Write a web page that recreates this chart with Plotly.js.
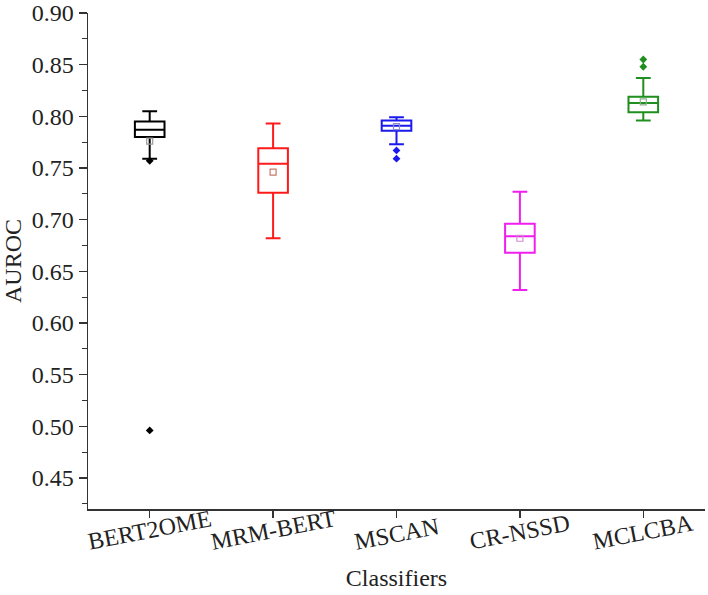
<!DOCTYPE html>
<html>
<head>
<meta charset="utf-8">
<script src="https://cdn.plot.ly/plotly-3.0.1.min.js"></script>
<style>
  html, body { margin: 0; padding: 0; background: #fff; }
  #chart { width: 708px; height: 595px; }
</style>
</head>
<body>
<div id="chart"></div>
<script>
// AUROC summary statistics per classifier
const classifiers = ["BERT2OME", "MRM-BERT", "MSCAN", "CR-NSSD", "MCLCBA"];
const lowerWhisker = [0.759, 0.682, 0.773, 0.632, 0.796];
const q1Values     = [0.780, 0.726, 0.786, 0.668, 0.804];
const medianValues = [0.787, 0.754, 0.791, 0.684, 0.813];
const q3Values     = [0.795, 0.769, 0.796, 0.696, 0.819];
const upperWhisker = [0.805, 0.793, 0.799, 0.727, 0.837];
const meanValues   = [0.776, 0.746, 0.790, 0.682, 0.814];
// outlying runs per classifier
const outlierValues = [
  [0.496, 0.757],
  [],
  [0.767, 0.759],
  [],
  [0.848, 0.855]
];
const colors     = ["#000000", "#ff1a1a", "#1a1aee", "#f01ff0", "#1f8f1f"];
const meanColors = ["#9a9a9a", "#c87a6a", "#8a8ad0", "#d090d0", "#90b090"];

const serif = "Liberation Serif";
const textColor = "#222";
const traces = [];

classifiers.forEach((name, i) => {
  traces.push({
    type: "box",
    name: name,
    x: [name],
    q1: [q1Values[i]],
    median: [medianValues[i]],
    q3: [q3Values[i]],
    lowerfence: [lowerWhisker[i]],
    upperfence: [upperWhisker[i]],
    width: 0.24,
    whiskerwidth: 0.5,
    fillcolor: "rgba(0,0,0,0)",
    line: { color: colors[i], width: 2 },
    boxpoints: false,
    hoverinfo: "skip",
    showlegend: false
  });
  traces.push({
    type: "scatter",
    mode: "markers",
    x: [name],
    y: [meanValues[i]],
    marker: { symbol: "square-open", size: 6, color: meanColors[i], line: { width: 1.2 } },
    showlegend: false,
    hoverinfo: "skip"
  });
  if (outlierValues[i].length) {
    traces.push({
      type: "scatter",
      mode: "markers",
      x: outlierValues[i].map(() => name),
      y: outlierValues[i],
      marker: { symbol: "diamond", size: 6, color: colors[i] },
      showlegend: false,
      hoverinfo: "skip"
    });
  }
});

// tilted category labels centred under each tick
const labelAnnotations = classifiers.map(name => ({
  x: name, xref: "x",
  y: 0, yref: "paper",
  yshift: -48,
  text: name,
  showarrow: false,
  textangle: -11,
  font: { family: serif, size: 24, color: textColor }
}));

const layout = {
  width: 708,
  height: 595,
  margin: { l: 88, r: 3, t: 13, b: 86 },
  paper_bgcolor: "#ffffff",
  plot_bgcolor: "#ffffff",
  boxmode: "overlay",
  font: { family: serif, size: 24, color: textColor },
  xaxis: {
    type: "category",
    categoryarray: classifiers,
    range: [-0.5, 4.5],
    showline: true,
    linecolor: "#333",
    linewidth: 1.5,
    ticks: "outside",
    ticklen: 7,
    tickwidth: 1.5,
    tickcolor: "#333",
    showticklabels: false,
    showgrid: false,
    zeroline: false,
    title: { text: "Classifiers", font: { family: serif, size: 24, color: textColor }, standoff: 52 }
  },
  yaxis: {
    range: [0.42, 0.90],
    dtick: 0.05,
    tick0: 0.45,
    tickformat: ".2f",
    showline: true,
    linecolor: "#333",
    linewidth: 1.5,
    ticks: "outside",
    ticklen: 8,
    tickwidth: 1.5,
    tickcolor: "#333",
    minor: { dtick: 0.025, ticks: "outside", ticklen: 5, tickwidth: 1.2, tickcolor: "#333", showgrid: false },
    showgrid: false,
    zeroline: false,
    tickfont: { family: serif, size: 24, color: textColor },
    title: { text: "AUROC", font: { family: serif, size: 24, color: textColor }, standoff: 4 }
  },
  annotations: labelAnnotations
};

Plotly.newPlot("chart", traces, layout, { staticPlot: true, displayModeBar: false });
</script>
</body>
</html>
